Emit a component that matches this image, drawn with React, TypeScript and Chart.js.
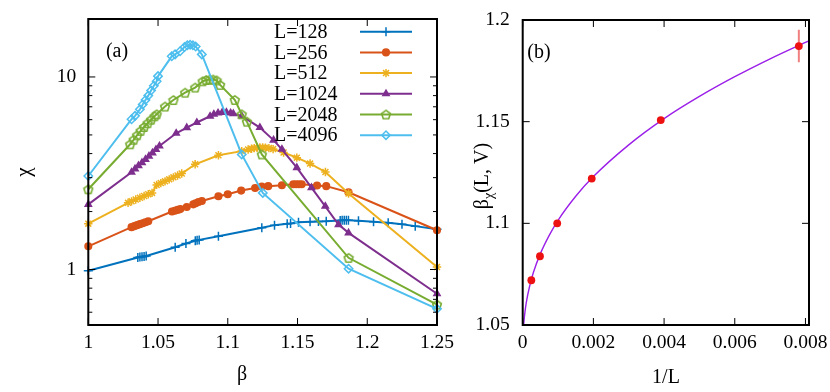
import React, { useEffect, useRef } from "react";
import { Chart, registerables } from "chart.js";
import { drawPoint } from "chart.js/helpers";

Chart.register(...registerables);

const FONT = "'Liberation Serif', 'Times New Roman', serif";

// ---------- Panel (a) data ----------
const X_TICKS_A = [1, 1.05, 1.1, 1.15, 1.2, 1.25];
const Y_TICKS_A = [0.6, 0.7, 0.8, 0.9, 1, 2, 3, 4, 5, 6, 7, 8, 9, 10];
const Y_LABELS_A = [1, 10];
const SIZE_LABELS = ["L=128", "L=256", "L=512", "L=1024", "L=2048", "L=4096"];
const COLORS = ["#0072BD", "#D95319", "#EDB120", "#7E2F8E", "#77AC30", "#4DBEEE"];

const BETA_128 = [1.0, 1.0355, 1.037, 1.0385, 1.04, 1.0415, 1.0623, 1.07, 1.0767, 1.078, 1.0795, 1.0933, 1.1244, 1.1335, 1.1426, 1.145, 1.1507, 1.159, 1.165, 1.1706, 1.1806, 1.182, 1.1835, 1.185, 1.1865, 1.1937, 1.2045, 1.215, 1.2249, 1.2344, 1.25];
const CHI_128 = [0.985, 1.155, 1.16, 1.165, 1.17, 1.175, 1.306, 1.365, 1.41, 1.418, 1.425, 1.49, 1.647, 1.7, 1.73, 1.735, 1.76, 1.77, 1.776, 1.78, 1.795, 1.8, 1.8, 1.8, 1.8, 1.79, 1.77, 1.75, 1.72, 1.68, 1.62];

const BETA_256 = [1.0, 1.031, 1.033, 1.035, 1.037, 1.039, 1.041, 1.043, 1.06, 1.062, 1.064, 1.066, 1.0706, 1.0753, 1.077, 1.079, 1.0814, 1.0933, 1.1, 1.1096, 1.1196, 1.1244, 1.129, 1.1388, 1.147, 1.149, 1.151, 1.153, 1.164, 1.1706, 1.1866, 1.25];
const CHI_256 = [1.32, 1.66, 1.68, 1.7, 1.72, 1.74, 1.76, 1.78, 2.0, 2.02, 2.04, 2.06, 2.11, 2.18, 2.21, 2.24, 2.27, 2.4, 2.46, 2.57, 2.65, 2.7, 2.71, 2.74, 2.77, 2.77, 2.77, 2.77, 2.73, 2.71, 2.52, 1.6];

const BETA_512 = [1.0, 1.0285, 1.031, 1.034, 1.037, 1.04, 1.043, 1.0457, 1.049, 1.052, 1.055, 1.058, 1.061, 1.064, 1.067, 1.0766, 1.0933, 1.11, 1.1146, 1.117, 1.119, 1.121, 1.123, 1.125, 1.127, 1.1295, 1.1325, 1.14, 1.1495, 1.159, 1.17, 1.1866, 1.25];
const CHI_512 = [1.73, 2.22, 2.26, 2.31, 2.36, 2.41, 2.46, 2.5, 2.75, 2.81, 2.87, 2.94, 3.01, 3.08, 3.15, 3.52, 3.92, 4.12, 4.2, 4.24, 4.27, 4.29, 4.3, 4.3, 4.29, 4.27, 4.22, 4.05, 3.81, 3.55, 3.21, 2.48, 1.03];

const BETA_1024 = [1.0, 1.031, 1.0335, 1.036, 1.0385, 1.041, 1.0435, 1.046, 1.0485, 1.051, 1.063, 1.0706, 1.0778, 1.0873, 1.09, 1.093, 1.096, 1.099, 1.102, 1.104, 1.11, 1.123, 1.1328, 1.1388, 1.1495, 1.16, 1.1699, 1.1794, 1.1866, 1.25];
const CHI_1024 = [2.18, 3.2, 3.33, 3.46, 3.59, 3.73, 3.88, 4.03, 4.2, 4.38, 5.1, 5.45, 5.8, 6.25, 6.4, 6.5, 6.55, 6.55, 6.5, 6.45, 6.27, 5.46, 4.7, 4.21, 3.38, 2.66, 2.13, 1.71, 1.55, 0.748];

const BETA_2048 = [1.0, 1.03, 1.0325, 1.035, 1.0375, 1.04, 1.0425, 1.045, 1.0475, 1.049, 1.055, 1.061, 1.0694, 1.0766, 1.082, 1.0845, 1.087, 1.0895, 1.092, 1.0945, 1.105, 1.11, 1.1137, 1.1244, 1.1866, 1.25];
const CHI_2048 = [2.61, 4.47, 4.72, 4.98, 5.25, 5.5, 5.75, 6.0, 6.25, 6.4, 7.02, 7.59, 8.29, 8.81, 9.5, 9.65, 9.7, 9.7, 9.6, 9.1, 7.6, 6.4, 5.86, 3.96, 1.15, 0.658];

const BETA_4096 = [1.0, 1.031, 1.0335, 1.037, 1.039, 1.041, 1.043, 1.045, 1.047, 1.049, 1.05, 1.0598, 1.0622, 1.0658, 1.069, 1.071, 1.073, 1.075, 1.077, 1.0814, 1.11, 1.1251, 1.1866, 1.25];
const CHI_4096 = [3.06, 6.03, 6.28, 6.79, 7.2, 7.6, 8.0, 8.5, 9.0, 9.5, 10.1, 12.8, 13.1, 13.6, 14.3, 14.6, 14.7, 14.6, 14.4, 13.1, 3.96, 2.5, 1.01, 0.625];

const BETAS = [BETA_128, BETA_256, BETA_512, BETA_1024, BETA_2048, BETA_4096];
const CHIS = [CHI_128, CHI_256, CHI_512, CHI_1024, CHI_2048, CHI_4096];

// ---------- Panel (b) data ----------
const INV_L = [0.0078125, 0.00390625, 0.001953125, 0.0009765625, 0.00048828125, 0.000244140625];
const BETA_CHI = [1.1872, 1.1508, 1.122, 1.1, 1.0838, 1.072];
const BETA_ERR = [0.008, 0.0008, 0.0008, 0.0012, 0.0008, 0.0006];
const FIT_X = [0.00002, 0.00003, 0.00005, 0.0001, 0.0002, 0.0003, 0.0005, 0.00075, 0.001, 0.0015, 0.002, 0.003, 0.004, 0.005, 0.006, 0.007, 0.008, 0.0081];
const FIT_Y = [1.0481, 1.0506, 1.0544, 1.0609, 1.0694, 1.0757, 1.0851, 1.0941, 1.1015, 1.1133, 1.123, 1.1386, 1.1515, 1.1624, 1.1721, 1.1809, 1.189, 1.1898];
const X_TICKS_B = [0, 0.002, 0.004, 0.006, 0.008];
const Y_TICKS_B = [1.05, 1.1, 1.15, 1.2];

// pentagon marker
function makePentagon(color: string): HTMLCanvasElement {
  const c = document.createElement("canvas");
  c.width = 12;
  c.height = 12;
  const g = c.getContext("2d")!;
  g.strokeStyle = color;
  g.lineWidth = 1.6;
  g.beginPath();
  for (let k = 0; k < 5; k++) {
    const a = -Math.PI / 2 + (k * 2 * Math.PI) / 5;
    const px = 6 + 4.6 * Math.cos(a);
    const py = 6.5 + 4.6 * Math.sin(a);
    if (k === 0) g.moveTo(px, py);
    else g.lineTo(px, py);
  }
  g.closePath();
  g.stroke();
  return c;
}

function fixedAxis(size: number, horizontal: boolean) {
  return (s: any) => {
    if (horizontal) s.height = size;
    else s.width = size;
    s.paddingLeft = 0;
    s.paddingRight = 0;
    s.paddingTop = 0;
    s.paddingBottom = 0;
  };
}

function framePlugin(xTicks: number[], yTicks: number[], yMajor: number[] | null) {
  return {
    id: "frame",
    afterDraw(chart: any) {
      const { ctx, chartArea: a, scales } = chart;
      ctx.save();
      ctx.strokeStyle = "#000";
      ctx.lineWidth = 1;
      ctx.beginPath();
      xTicks.forEach((v) => {
        const px = scales.x.getPixelForValue(v);
        ctx.moveTo(px, a.bottom);
        ctx.lineTo(px, a.bottom - 7);
        ctx.moveTo(px, a.top);
        ctx.lineTo(px, a.top + 7);
      });
      yTicks.forEach((v) => {
        const py = scales.y.getPixelForValue(v);
        const len = yMajor && !yMajor.includes(v) ? 4 : 7;
        ctx.moveTo(a.left, py);
        ctx.lineTo(a.left + len, py);
        ctx.moveTo(a.right, py);
        ctx.lineTo(a.right - len, py);
      });
      ctx.stroke();
      ctx.lineWidth = 2;
      ctx.strokeRect(a.left, a.top, a.right - a.left, a.bottom - a.top);
      ctx.restore();
    },
  };
}

function text(ctx: CanvasRenderingContext2D, s: string, x: number, y: number, size: number, align: CanvasTextAlign = "center") {
  ctx.font = `${size}px ${FONT}`;
  ctx.fillStyle = "#000";
  ctx.textAlign = align;
  ctx.textBaseline = "middle";
  ctx.fillText(s, x, y);
}

export default function App() {
  const refA = useRef<HTMLCanvasElement>(null);
  const refB = useRef<HTMLCanvasElement>(null);

  useEffect(() => {
    const styles: any[] = ["cross", "circle", "star", "triangle", makePentagon(COLORS[4]), "rectRot"];
    const radii = [4.5, 3.3, 4.2, 3.6, 6, 4.2];
    const filled = [true, true, true, true, false, false];

    const datasetsA = BETAS.map((bx, i) => ({
      label: SIZE_LABELS[i],
      data: bx.map((x, j) => ({ x, y: CHIS[i][j] })),
      showLine: true,
      borderColor: COLORS[i],
      backgroundColor: COLORS[i],
      borderWidth: 2,
      pointStyle: styles[i],
      pointRadius: radii[i],
      pointBorderWidth: 1.5,
      pointBorderColor: COLORS[i],
      pointBackgroundColor: filled[i] ? COLORS[i] : "rgba(255,255,255,0)",
      clip: false,
      order: 6 - i,
    }));

    const tickFont = { family: FONT, size: 19.5 };

    const labelsPluginA = {
      id: "labelsA",
      afterDraw(chart: any) {
        const ctx = chart.ctx as CanvasRenderingContext2D;
        ctx.save();
        text(ctx, "(a)", 117, 52, 20);
        text(ctx, "β", 242, 375, 20);
        ctx.translate(24, 172);
        ctx.rotate(-Math.PI / 2);
        text(ctx, "χ", 0, 0, 21);
        ctx.restore();
        // legend
        ctx.save();
        SIZE_LABELS.forEach((lab, i) => {
          const y = 31.7 + i * 20.7;
          text(ctx, lab, 274, y + 1, 20, "left");
          ctx.strokeStyle = COLORS[i];
          ctx.lineWidth = 2;
          ctx.beginPath();
          ctx.moveTo(360, y);
          ctx.lineTo(412, y);
          ctx.stroke();
          ctx.fillStyle = filled[i] ? COLORS[i] : "rgba(255,255,255,0)";
          ctx.lineWidth = 1.5;
          drawPoint(ctx, { pointStyle: styles[i], radius: radii[i], rotation: 0, borderWidth: 1.5 } as any, 386, y);
        });
        ctx.restore();
      },
    };

    const chartA = new Chart(refA.current!, {
      type: "scatter",
      data: { datasets: datasetsA as any },
      options: {
        animation: false,
        responsive: false,
        maintainAspectRatio: false,
        layout: { padding: { top: 19, right: 23, left: 0, bottom: 0 } },
        plugins: { legend: { display: false }, tooltip: { enabled: false } },
        scales: {
          x: {
            type: "linear",
            min: 1,
            max: 1.25,
            afterBuildTicks: (s: any) => {
              s.ticks = X_TICKS_A.map((v) => ({ value: v }));
            },
            afterFit: fixedAxis(67, true),
            ticks: { font: tickFont, color: "#000", padding: 6, autoSkip: false, maxRotation: 0, callback: (v: any) => String(v) },
            grid: { display: false, drawTicks: false },
            border: { display: false },
          },
          y: {
            type: "logarithmic",
            min: 0.515,
            max: 20,
            afterBuildTicks: (s: any) => {
              s.ticks = Y_TICKS_A.map((v) => ({ value: v }));
            },
            afterFit: fixedAxis(88.3, false),
            ticks: {
              font: tickFont,
              color: "#000",
              padding: 12,
              autoSkip: false,
              callback: (v: any) => (Y_LABELS_A.includes(Number(v)) ? String(v) : ""),
            },
            grid: { display: false, drawTicks: false },
            border: { display: false },
          },
        },
      },
      plugins: [framePlugin(X_TICKS_A, Y_TICKS_A, Y_LABELS_A), labelsPluginA],
    });

    const errorPlugin = {
      id: "errbars",
      beforeDatasetsDraw(chart: any) {
        const { ctx, scales } = chart;
        ctx.save();
        ctx.strokeStyle = "#f08080";
        ctx.lineWidth = 2;
        ctx.beginPath();
        INV_L.forEach((x, i) => {
          const px = scales.x.getPixelForValue(x);
          ctx.moveTo(px, scales.y.getPixelForValue(BETA_CHI[i] - BETA_ERR[i]));
          ctx.lineTo(px, scales.y.getPixelForValue(BETA_CHI[i] + BETA_ERR[i]));
        });
        ctx.stroke();
        ctx.restore();
      },
    };

    const labelsPluginB = {
      id: "labelsB",
      afterDraw(chart: any) {
        const ctx = chart.ctx as CanvasRenderingContext2D;
        ctx.save();
        text(ctx, "(b)", 79, 53, 20);
        text(ctx, "1/L", 206, 378, 20);
        ctx.translate(23, 176);
        ctx.rotate(-Math.PI / 2);
        ctx.font = `20px ${FONT}`;
        const w1 = ctx.measureText("β").width;
        ctx.font = `14px ${FONT}`;
        const w2 = ctx.measureText("χ").width;
        ctx.font = `20px ${FONT}`;
        const w3 = ctx.measureText("(L, V)").width;
        let x0 = -(w1 + w2 + w3) / 2;
        text(ctx, "β", x0, 0, 20, "left");
        x0 += w1;
        text(ctx, "χ", x0, 6, 14, "left");
        x0 += w2;
        text(ctx, "(L, V)", x0, 0, 20, "left");
        ctx.restore();
      },
    };

    const chartB = new Chart(refB.current!, {
      type: "scatter",
      data: {
        datasets: [
          {
            label: "data",
            data: INV_L.map((x, i) => ({ x, y: BETA_CHI[i] })),
            showLine: false,
            pointStyle: "circle",
            pointRadius: 3.9,
            pointBackgroundColor: "#ee1111",
            pointBorderColor: "#ee1111",
            pointBorderWidth: 0,
            clip: false,
            order: 1,
          },
          {
            label: "fit",
            data: FIT_X.map((x, i) => ({ x, y: FIT_Y[i] })),
            showLine: true,
            borderColor: "#9b1fe8",
            borderWidth: 1.4,
            pointRadius: 0,
            cubicInterpolationMode: "monotone",
            order: 2,
          },
        ] as any,
      },
      options: {
        animation: false,
        responsive: false,
        maintainAspectRatio: false,
        layout: { padding: { top: 20, right: 21, left: 0, bottom: 0 } },
        plugins: { legend: { display: false }, tooltip: { enabled: false } },
        scales: {
          x: {
            type: "linear",
            min: 0,
            max: 0.0081,
            afterBuildTicks: (s: any) => {
              s.ticks = X_TICKS_B.map((v) => ({ value: v }));
            },
            afterFit: fixedAxis(67, true),
            ticks: { font: tickFont, color: "#000", padding: 6, autoSkip: false, maxRotation: 0, callback: (v: any) => String(v) },
            grid: { display: false, drawTicks: false },
            border: { display: false },
          },
          y: {
            type: "linear",
            min: 1.05,
            max: 1.2,
            afterBuildTicks: (s: any) => {
              s.ticks = Y_TICKS_B.map((v) => ({ value: v }));
            },
            afterFit: fixedAxis(62.7, false),
            ticks: { font: tickFont, color: "#000", padding: 13, autoSkip: false, callback: (v: any) => String(v) },
            grid: { display: false, drawTicks: false },
            border: { display: false },
          },
        },
      },
      plugins: [errorPlugin, framePlugin(X_TICKS_B, Y_TICKS_B, null), labelsPluginB],
    });

    return () => {
      chartA.destroy();
      chartB.destroy();
    };
  }, []);

  return (
    <div style={{ position: "absolute", left: 0, top: 0, width: 830, height: 392, background: "#fff" }}>
      <canvas ref={refA} width={460} height={392} style={{ position: "absolute", left: 0, top: 0, width: 460, height: 392 }} />
      <canvas ref={refB} width={370} height={392} style={{ position: "absolute", left: 460, top: 0, width: 370, height: 392 }} />
    </div>
  );
}
